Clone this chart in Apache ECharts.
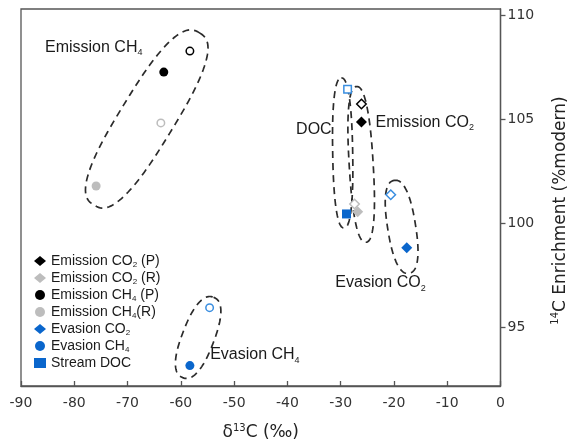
<!DOCTYPE html>
<html><head><meta charset="utf-8">
<script src="https://cdn.jsdelivr.net/npm/echarts@6/dist/echarts.min.js"></script>
<style>html,body{margin:0;padding:0;background:#fff}#c{width:577px;height:447px}</style>
</head><body><div id="c"></div>
<script>
// ---- data (x = δ13C ‰, y = 14C enrichment %modern) ----
const yTickValues = [95, 100, 105, 110];

const emissionCO2P_filled = [[-26.1, 104.87]];
const emissionCO2P_open   = [[-26.1, 105.74]];
const emissionCO2R_filled = [[-26.8, 100.56]];
const emissionCO2R_open   = [[-27.4, 100.94]];
const emissionCH4P_filled = [[-63.2, 107.27]];
const emissionCH4P_open   = [[-58.3, 108.28]];
const emissionCH4R_filled = [[-75.9, 101.8]];
const emissionCH4R_open   = [[-63.75, 104.83]];
const evasionCO2_filled   = [[-17.6, 98.84]];
const evasionCO2_open     = [[-20.6, 101.38]];
const evasionCH4_filled   = [[-58.3, 93.18]];
const evasionCH4_open     = [[-54.6, 95.96]];
const streamDOC_filled    = [[-28.9, 100.46]];
const streamDOC_open      = [[-28.7, 106.45]];

// group outlines: centre in data units, semi axes in px, angle in deg
const groupCentres = [[-66.4, 105.02], [-56.75, 94.53], [-29.62, 103.39], [-26.15, 102.84], [-18.56, 99.84]];
const groupShapes = [
  {a: 101, b: 27, ang: 58.5, p: 2.7},
  {a: 43, b: 16, ang: 69, p: 2.4},
  {a: 75, b: 10, ang: 91, p: 2.4},
  {a: 78, b: 12, ang: 93.4, p: 2.4},
  {a: 47, b: 14, ang: 99, p: 2.4}
];
// annotation labels
const annotTexts = ['{t|Emission CH}{s|4}', '{t|DOC}', '{t|Emission CO}{s|2}', '{t|Evasion CO}{s|2}', '{t|Evasion CH}{s|4}'];
const annotAnchors = [[-85.5, 108.47], [-31.69, 104.5], [-23.44, 104.87], [-31.0, 97.16], [-54.5, 93.7]];
const annotAlign = ['left', 'right', 'left', 'left', 'left'];

const legendRich = {
  'Emission CO2 (P)': '{t|Emission CO}{s|2}{t| (P)}',
  'Emission CO2 (R)': '{t|Emission CO}{s|2}{t| (R)}',
  'Emission CH4 (P)': '{t|Emission CH}{s|4}{t| (P)}',
  'Emission CH4 (R)': '{t|Emission CH}{s|4}{t|(R)}',
  'Evasion CO2': '{t|Evasion CO}{s|2}',
  'Evasion CH4': '{t|Evasion CH}{s|4}',
  'Stream DOC': '{t|Stream DOC}'
};

const BLACK = '#000000', GREY = '#bdbdbd', BLUE = '#0a66cc', LBLUE = '#3a8ee0';

function mk(name, symbol, size, color, openColor, filled, open) {
  const data = filled.map(p => ({value: p}))
    .concat(open.map(p => ({value: p, symbolSize: size - 1.5,
      itemStyle: {color: '#ffffff', borderColor: openColor, borderWidth: 1.5}})));
  return {name, type: 'scatter', symbol, symbolSize: size, z: 5,
    itemStyle: {color, opacity: 1}, data};
}

const series = [
  mk('Emission CO2 (P)', 'diamond', 11, BLACK, BLACK, emissionCO2P_filled, emissionCO2P_open),
  mk('Emission CO2 (R)', 'diamond', 11, GREY, GREY, emissionCO2R_filled, emissionCO2R_open),
  mk('Emission CH4 (P)', 'circle', 9, BLACK, BLACK, emissionCH4P_filled, emissionCH4P_open),
  mk('Emission CH4 (R)', 'circle', 9, GREY, GREY, emissionCH4R_filled, emissionCH4R_open),
  mk('Evasion CO2', 'diamond', 11, BLUE, LBLUE, evasionCO2_filled, evasionCO2_open),
  mk('Evasion CH4', 'circle', 9, BLUE, LBLUE, evasionCH4_filled, evasionCH4_open),
  mk('Stream DOC', 'rect', 9, BLUE, LBLUE, streamDOC_filled, streamDOC_open),
  {
    type: 'custom', silent: true, z: 3,
    data: groupCentres.map((c, i) => [c[0], c[1], i]),
    renderItem: function (params, api) {
      const c = api.coord([api.value(0), api.value(1)]);
      const s = groupShapes[api.value(2)];
      const th = s.ang * Math.PI / 180;
      const ux = Math.cos(th), uy = -Math.sin(th);
      const nx = Math.sin(th), ny = Math.cos(th);
      const pts = [];
      const N = 120;
      for (let k = 0; k < N; k++) {
        const t = 2 * Math.PI * k / N;
        const ct = Math.cos(t), st = Math.sin(t);
        const X = Math.sign(ct) * Math.pow(Math.abs(ct), 2 / s.p);
        const Y = Math.sign(st) * Math.pow(Math.abs(st), 2 / s.p);
        pts.push([c[0] + ux * s.a * X + nx * s.b * Y, c[1] + uy * s.a * X + ny * s.b * Y]);
      }
      return {type: 'polygon', shape: {points: pts},
        style: {fill: 'none', stroke: '#2b2b2b', lineWidth: 1.7, lineDash: [7, 5]}};
    }
  },
  {
    type: 'custom', silent: true, z: 6,
    data: annotAnchors.map((c, i) => [c[0], c[1], i]),
    renderItem: function (params, api) {
      const c = api.coord([api.value(0), api.value(1)]);
      const i = api.value(2);
      return {type: 'text', x: c[0], y: c[1],
        style: {text: annotTexts[i], align: annotAlign[i], verticalAlign: 'middle',
          fill: '#1a1a1a', fontFamily: 'Liberation Sans', fontSize: 16,
          rich: {t: {fontSize: 16, lineHeight: 20, fontFamily: 'Liberation Sans', fill: '#1a1a1a'},
                 s: {fontSize: 9, lineHeight: 9, verticalAlign: 'bottom', fontFamily: 'Liberation Sans', fill: '#1a1a1a'}}}};
    }
  }
];

const axisCol = '#555555';
const option = {
  animation: false,
  backgroundColor: '#ffffff',
  grid: {left: 21, right: 76, top: 9, bottom: 61, show: true, borderColor: axisCol, borderWidth: 1.3, backgroundColor: 'transparent'},
  legend: {
    orient: 'vertical', left: 34, top: 254, padding: 0, itemGap: 2.5, itemWidth: 12, itemHeight: 10,
    data: Object.keys(legendRich),
    formatter: n => legendRich[n],
    textStyle: {fontFamily: 'Liberation Sans', fontSize: 14, color: '#1a1a1a',
      rich: {t: {fontSize: 14, lineHeight: 15, fontFamily: 'Liberation Sans', color: '#1a1a1a'},
             s: {fontSize: 8, lineHeight: 8, verticalAlign: 'bottom', fontFamily: 'Liberation Sans', color: '#1a1a1a'}}}
  },
  xAxis: {
    type: 'value', min: -90, max: 0, interval: 10, position: 'bottom',
    axisLine: {show: true, onZero: false, lineStyle: {color: axisCol, width: 1.3}},
    axisTick: {show: true, inside: true, length: 5, lineStyle: {color: axisCol, width: 1.3}},
    axisLabel: {fontFamily: 'DejaVu Sans', fontSize: 14, color: '#333', margin: 10},
    splitLine: {show: false},
    name: '{t|δ}{sup|13}{t|C (‰)}', nameLocation: 'middle', nameGap: 37,
    nameTextStyle: {fontFamily: 'DejaVu Sans', fontSize: 17, color: '#222',
      rich: {t: {fontSize: 17, lineHeight: 20, fontFamily: 'DejaVu Sans', color: '#222'},
             sup: {fontSize: 10, lineHeight: 10, verticalAlign: 'top', fontFamily: 'DejaVu Sans', color: '#222'}}}
  },
  yAxis: {
    type: 'value', min: 92.2, max: 110.3, position: 'right',
    axisLine: {show: true, onZero: false, lineStyle: {color: axisCol, width: 1.3}},
    axisTick: {show: true, inside: false, length: 5, customValues: yTickValues, lineStyle: {color: axisCol, width: 1.3}},
    axisLabel: {fontFamily: 'DejaVu Sans', fontSize: 14, color: '#333', margin: 7, customValues: yTickValues},
    splitLine: {show: false},
    name: '{sup|14}{t|C Enrichment (%modern)}', nameLocation: 'middle', nameGap: 50, nameRotate: 90,
    nameTextStyle: {fontFamily: 'DejaVu Sans', fontSize: 17, color: '#222', padding: [0, 26, 0, 0],
      rich: {t: {fontSize: 17, lineHeight: 20, fontFamily: 'DejaVu Sans', color: '#222'},
             sup: {fontSize: 10, lineHeight: 10, verticalAlign: 'top', fontFamily: 'DejaVu Sans', color: '#222'}}}
  },
  series
};
const chart = echarts.init(document.getElementById('c'), null, {renderer: 'canvas'});
chart.setOption(option);
</script></body></html>
